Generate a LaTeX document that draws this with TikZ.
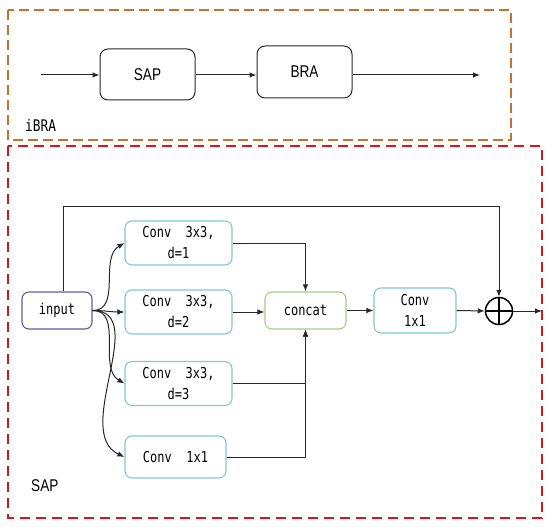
\documentclass[tikz,border=0pt]{standalone}
\usepackage{fontspec}
\setmainfont{Liberation Sans}
\newfontfamily\narrowsans[FakeStretch=0.8]{Liberation Sans}
\newfontfamily\monofont[FakeStretch=0.8]{DejaVu Sans Mono}
\usetikzlibrary{arrows.meta}
\definecolor{outerorange}{RGB}{200,112,45}
\definecolor{outerred}{RGB}{220,20,30}
\definecolor{inputcol}{RGB}{95,90,160}
\definecolor{convcol}{RGB}{130,200,210}
\definecolor{catcol}{RGB}{165,205,140}
\definecolor{linecol}{RGB}{40,40,40}
\tikzset{
  arr/.style={draw=linecol, line width=1pt, -{Latex[length=7pt,width=5.5pt]}},
  topbox/.style={draw=linecol, line width=1pt, rounded corners=8pt, font=\narrowsans\fontsize{17}{19}\selectfont},
  cbox/.style={draw=convcol, line width=1.1pt, rounded corners=7pt, align=center, font=\monofont\fontsize{15}{21}\selectfont, inner sep=0pt},
  ibox/.style={cbox, draw=inputcol},
  gbox/.style={cbox, draw=catcol},
  frameorange/.style={draw=outerorange, line width=1.4pt, dash pattern=on 10pt off 5pt},
  framered/.style={draw=outerred, line width=1.4pt, dash pattern=on 10pt off 6pt},
}
\begin{document}
\begin{tikzpicture}[x=1pt,y=-1pt]
\useasboundingbox (0,0) rectangle (550,527);
% frames
\draw[frameorange] (8,10) rectangle (511,140);
\draw[framered] (8,146) rectangle (542,518);
% top part
\node[topbox, minimum width=95pt, minimum height=51pt] (sap) at (147.5,74.5) {SAP};
\node[topbox, minimum width=95pt, minimum height=52pt] (bra) at (304.5,72) {BRA};
\coordinate (tin) at (41,75);
\coordinate (tout) at (480,75);
\draw[arr] (tin) -- (tin -| sap.west);
\draw[arr] (sap.east |- tin) -- (tin -| bra.west);
\draw[arr] (bra.east |- tin) -- (tout);
\node[anchor=west, font=\monofont\fontsize{16}{18}\selectfont, inner sep=0pt] (ibra) at (25,125) {iBRA};
% SAP part
\node[ibox, minimum width=70pt, minimum height=37pt] (input) at (57,310.5) {input};
\node[cbox, minimum width=107pt, minimum height=44pt] (c1) at (178.5,243) {Conv\ \ 3x3,\\d=1};
\node[cbox, minimum width=107pt, minimum height=44pt] (c2) at (178.5,312) {Conv\ \ 3x3,\\d=2};
\node[cbox, minimum width=107pt, minimum height=44pt] (c3) at (178.5,383.5) {Conv\ \ 3x3,\\d=3};
\node[cbox, minimum width=101pt, minimum height=42pt] (c4) at (175.5,457) {Conv\ \ 1x1};
\node[gbox, minimum width=81pt, minimum height=37pt] (cat) at (305.5,310.5) {concat};
\node[cbox, minimum width=82pt, minimum height=45pt] (cout) at (415,310.5) {Conv\\1x1};
\node[draw=black, line width=1.5pt, circle, minimum size=27pt, inner sep=0pt] (sum) at (499,311) {};
\draw[line width=1.5pt] (sum.north) -- (sum.south) (sum.west) -- (sum.east);
\coordinate (k) at (63,207);
\coordinate (outend) at (542,311);
\node[anchor=west, font=\narrowsans\fontsize{17}{19}\selectfont, inner sep=0pt] (saplbl) at (31,486) {SAP};
% connectors
\draw[arr] (input.north -| k) -- (k) -| (sum.north);
\draw[arr] (input.east) to[out=0,in=210] (c1.west);
\draw[arr] (input.east) to[out=0,in=180] (c2.west);
\draw[arr] (input.east) to[out=0,in=150] (c3.west);
\draw[arr] (input.east) to[out=0,in=155] (c4.west);
\draw[arr] (c1.east) -| (cat.north);
\draw[arr] (c2.east) -- (c2.east -| cat.west);
\draw[arr] (c3.east) -| (cat.south);
\draw[arr] (c4.east) -| (cat.south);
\draw[arr] (cat.east) -- (cout.west);
\draw[arr] (cout.east) -- (sum.west);
\draw[arr] (sum.east) -- (outend);
\end{tikzpicture}
\end{document}
